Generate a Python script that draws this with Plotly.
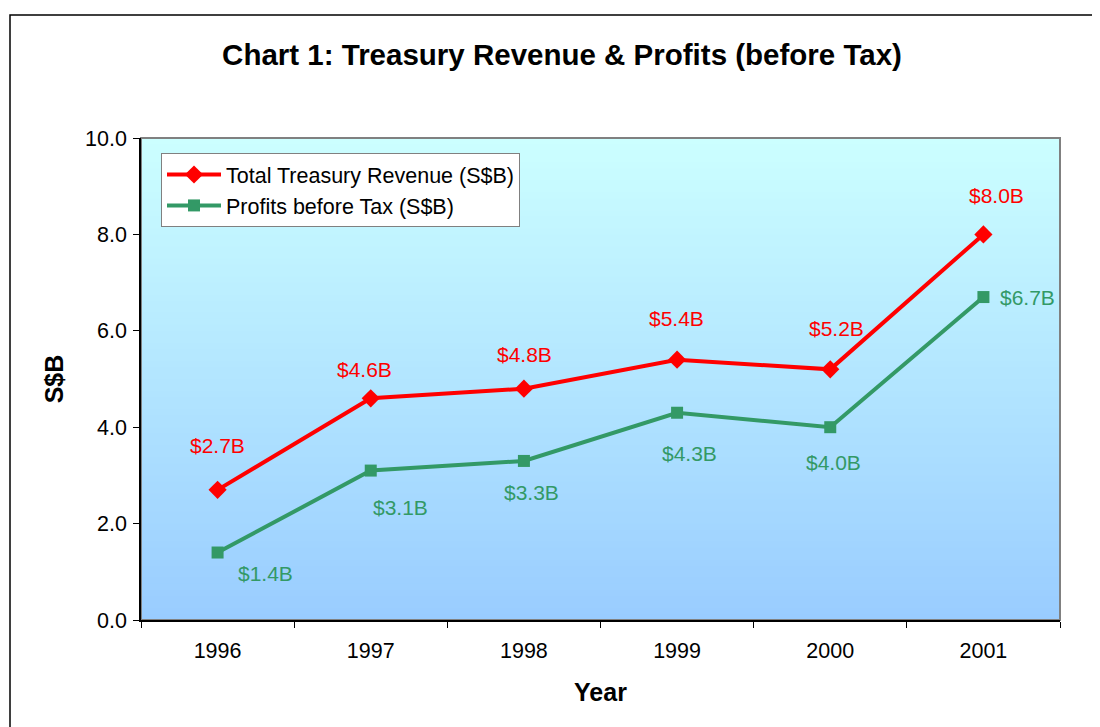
import plotly.graph_objects as go

years = ["1996", "1997", "1998", "1999", "2000", "2001"]
revenue = [2.7, 4.6, 4.8, 5.4, 5.2, 8.0]
profits = [1.4, 3.1, 3.3, 4.3, 4.0, 6.7]
revenue_labels = ["$2.7B", "$4.6B", "$4.8B", "$5.4B", "$5.2B", "$8.0B"]
profit_labels = ["$1.4B", "$3.1B", "$3.3B", "$4.3B", "$4.0B", "$6.7B"]
y_ticks = [0, 2, 4, 6, 8, 10]
y_tick_labels = ["0.0", "2.0", "4.0", "6.0", "8.0", "10.0"]

RED = "#FF0000"
GREEN = "#339966"
FONT = "Liberation Sans, Arial, sans-serif"

# page body margin offsets the figure by 8px
OFF = 8
W, H = 1100, 727
# plot area on screen: x 141..1060, y 138..620
L = 141 - OFF
T = 138 - OFF
R = W - (1060 - OFF)
B = H - (620 - OFF)
PW, PH = W - L - R, H - T - B


def sx(px):  # screen x -> paper
    return (px - OFF - L) / PW


def sy(py):  # screen y -> paper
    return (H - B - (py - OFF)) / PH


fig = go.Figure()

fig.add_trace(go.Scatter(
    x=years, y=revenue, mode="lines+markers", name="Total Treasury Revenue (S$B)",
    line=dict(color=RED, width=4),
    marker=dict(symbol="diamond", size=14, color=RED),
))
fig.add_trace(go.Scatter(
    x=years, y=profits, mode="lines+markers", name="Profits before Tax (S$B)",
    line=dict(color=GREEN, width=4),
    marker=dict(symbol="square", size=12, color=GREEN),
))

# gradient background via stripes
n = 80
c_top = (0xCC, 0xFF, 0xFF)
c_bot = (0x99, 0xCC, 0xFF)
for i in range(n):
    t = (i + 0.5) / n
    c = tuple(round(c_bot[k] + (c_top[k] - c_bot[k]) * t) for k in range(3))
    fig.add_shape(type="rect", xref="x domain", yref="y domain",
                  x0=0, x1=1, y0=i / n, y1=min(1, (i + 1) / n + 0.003),
                  fillcolor="rgb(%d,%d,%d)" % c, line=dict(width=0), layer="below")
# plot area border (gray top/right)
fig.add_shape(type="rect", xref="x domain", yref="y domain", x0=0, x1=1, y0=0, y1=1,
              line=dict(color="#808080", width=2), fillcolor="rgba(0,0,0,0)", layer="below")
# outer chart border
fig.add_shape(type="rect", xref="paper", yref="paper",
              x0=sx(10), x1=sx(1120), y0=sy(760), y1=sy(15),
              line=dict(color="black", width=1.5), fillcolor="rgba(0,0,0,0)")

rev_off = [(0, 44), (-6, 29), (1, 34), (-1, 41), (6, 41), (13, 39)]
pro_off = [(48, -21), (30, -37), (8, -32), (12, -41), (3, -35), (44, 0)]
for i in range(len(years)):
    fig.add_annotation(x=i, y=revenue[i], xref="x", yref="y", text=revenue_labels[i],
                       showarrow=False, xshift=rev_off[i][0], yshift=rev_off[i][1],
                       font=dict(color=RED, size=21, family=FONT))
    fig.add_annotation(x=i, y=profits[i], xref="x", yref="y", text=profit_labels[i],
                       showarrow=False, xshift=pro_off[i][0], yshift=pro_off[i][1],
                       font=dict(color=GREEN, size=21, family=FONT))

fig.update_layout(
    width=W, height=H,
    margin=dict(l=L, r=R, t=T, b=B, pad=0),
    paper_bgcolor="white",
    plot_bgcolor="rgba(0,0,0,0)",
    font=dict(family=FONT, color="black", size=21),
    title=dict(text="<b>Chart 1: Treasury Revenue &amp; Profits (before Tax)</b>",
               x=sx(562), xref="paper", xanchor="center",
               y=1 - (55 - OFF) / H, yanchor="middle",
               font=dict(size=29.5, family=FONT, color="black")),
    showlegend=True,
    legend=dict(x=sx(161), y=sy(153), xanchor="left", yanchor="top",
                bgcolor="white", bordercolor="#808080", borderwidth=1,
                font=dict(size=21.5, family=FONT), tracegroupgap=0, itemwidth=54),
    xaxis=dict(type="category", tickson="boundaries", ticks="outside", ticklen=6,
               tickcolor="black", showline=True, linecolor="black", linewidth=1.5,
               showgrid=False, zeroline=False, range=[-0.5, 5.5],
               ticklabelstandoff=10,
               title=dict(text="<b>Year</b>", font=dict(size=25, family=FONT), standoff=22),
               tickfont=dict(size=21.5, family=FONT)),
    yaxis=dict(range=[0, 10], tickvals=y_ticks, ticktext=y_tick_labels, ticks="outside",
               ticklen=6, tickcolor="black", showline=True, linecolor="black", linewidth=1.5,
               showgrid=False, zeroline=False, ticklabelstandoff=2,
               title=dict(text="<b>S$B</b>", font=dict(size=25, family=FONT), standoff=14),
               tickfont=dict(size=21.5, family=FONT)),
)

fig.write_html("out.html")
